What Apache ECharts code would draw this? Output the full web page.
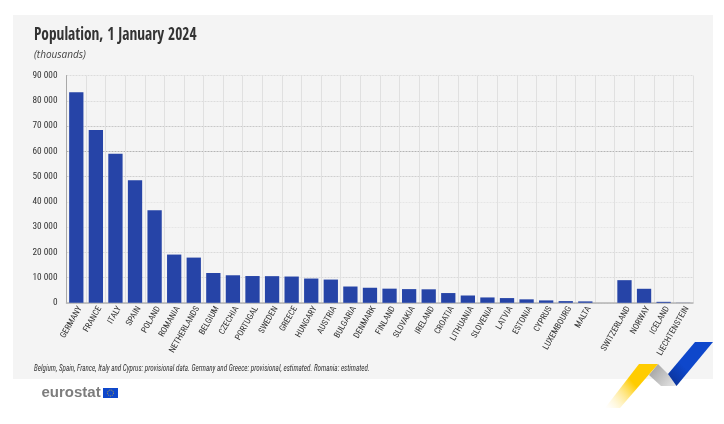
<!DOCTYPE html>
<html>
<head>
<meta charset="utf-8">
<title>Population, 1 January 2024</title>
<script src="https://cdn.jsdelivr.net/npm/echarts@6/dist/echarts.min.js"></script>
<style>
  html, body { margin: 0; padding: 0; background: #fff; }
  #chart { width: 724px; height: 424px; }
</style>
</head>
<body>
<div id="chart"></div>
<script>
// blank entry separates the EU members from the EFTA countries
const countries = ['GERMANY', 'FRANCE', 'ITALY', 'SPAIN', 'POLAND', 'ROMANIA', 'NETHERLANDS', 'BELGIUM', 'CZECHIA', 'PORTUGAL', 'SWEDEN', 'GREECE', 'HUNGARY', 'AUSTRIA', 'BULGARIA', 'DENMARK', 'FINLAND', 'SLOVAKIA', 'IRELAND', 'CROATIA', 'LITHUANIA', 'SLOVENIA', 'LATVIA', 'ESTONIA', 'CYPRUS', 'LUXEMBOURG', 'MALTA', '', 'SWITZERLAND', 'NORWAY', 'ICELAND', 'LIECHTENSTEIN']
const population = [83400, 68400, 59000, 48500, 36600, 19100, 17900, 11800, 10900, 10600, 10550, 10400, 9600, 9200, 6450, 5960, 5600, 5420, 5340, 3860, 2890, 2120, 1870, 1370, 950, 670, 560, null, 8960, 5550, 384, 40]

const titleText = 'Population, 1 January 2024'
const subtitleText = '(thousands)'
const noteText = 'Belgium, Spain, France, Italy and Cyprus: provisional data. Germany and Greece: provisional, estimated. Romania: estimated.'

const narrow = '"Roboto Condensed", sans-serif'
const chart = echarts.init(document.getElementById('chart'))

const ribbon = (x0, y0, x1, y1, stops) => new echarts.graphic.LinearGradient(x0, y0, x1, y1, stops)

chart.setOption({
  animation: false,
  backgroundColor: '#fff',
  textStyle: { fontFamily: narrow },
  title: [
    { text: subtitleText, left: 29, top: 45, textStyle: { fontFamily: '"Open Sans", sans-serif', fontSize: 10, fontStyle: 'italic', fontWeight: 'normal', color: '#444' } }
  ],
  grid: { left: 66.5, top: 75.5, width: 626.5, height: 227.3 },
  xAxis: {
    type: 'category',
    data: countries,
    axisLine: { lineStyle: { color: '#b4b4b4', width: 1.5 } },
    axisTick: { show: false },
    axisLabel: { interval: 0, rotate: 60, margin: 2, fontSize: 8.6, color: '#333', fontFamily: narrow, verticalAlign: 'top' },
    splitLine: { show: true, interval: 0, lineStyle: { color: '#e0e0e0', width: 1 } }
  },
  yAxis: {
    type: 'value',
    min: 0,
    max: 90000,
    interval: 10000,
    axisLine: { show: true, lineStyle: { color: '#a8a8a8', width: 1 } },
    axisTick: { show: false },
    axisLabel: {
      margin: 9,
      fontSize: 9.3,
      color: '#333',
      fontFamily: narrow,
      padding: [2, 0, 0, 0],
      formatter: v => String(v).replace(/\B(?=(\d{3})+$)/g, ' ')
    },
    splitLine: {
      show: true,
      lineStyle: {
        color: ['#d8d8d8', '#dadada', '#dadada', '#e6e6e6', '#e6e6e6', '#cfcfcf', '#b4b4b4', '#c8c8c8', '#dcdcdc', '#dcdcdc'],
        width: 1,
        type: [2, 1]
      }
    }
  },
  series: [{
    type: 'bar',
    data: population,
    barWidth: '73%',
    itemStyle: { color: '#2644A7' },
    z: 3
  }],
  graphic: [
    // panel behind the chart
    { type: 'rect', z: -10, silent: true, shape: { x: 13, y: 15, width: 700, height: 364 }, style: { fill: '#f4f4f4' } },
    // title and note squeezed horizontally, no installed font is narrow enough
    { type: 'text', z: 10, silent: true, x: 34, y: 36, scaleX: 0.905, style: { text: titleText, font: 'bold 17px "Open Sans Condensed", sans-serif', fill: '#333', verticalAlign: 'middle' } },
    { type: 'text', z: 10, silent: true, x: 34, y: 369, scaleX: 0.786, style: { text: noteText, font: 'italic 9px "Roboto Condensed", sans-serif', fill: '#333', verticalAlign: 'middle' } },
    // ribbon decoration, bottom right
    { type: 'polygon', z: 10, silent: true, shape: { points: [[658, 364], [668, 374], [676.5, 386], [661, 386], [649, 375]] },
      style: { fill: ribbon(0, 0, 1, 1, [{ offset: 0, color: '#9a9a9a' }, { offset: 1, color: '#e8e8e8' }]) } },
    { type: 'polygon', z: 11, silent: true, shape: { points: [[639, 364], [658, 364], [620, 408], [605, 408]] },
      style: { fill: ribbon(1, 0, 0, 1, [{ offset: 0, color: '#ffcc00' }, { offset: 0.45, color: '#ffcc00' }, { offset: 1, color: 'rgba(255,240,190,0)' }]) } },
    { type: 'polygon', z: 11, silent: true, shape: { points: [[695, 342], [713, 342], [676.5, 386], [668, 374]] },
      style: { fill: ribbon(1, 0, 0, 1, [{ offset: 0, color: '#0e47cb' }, { offset: 0.6, color: '#0e47cb' }, { offset: 1, color: '#0a2f8f' }]) } },
    // eurostat wordmark and flag
    { type: 'text', z: 10, silent: true, x: 41.5, y: 385, style: { text: 'eurostat', font: 'bold 15px "Liberation Sans", sans-serif', fill: '#7d7d7d' } },
    { type: 'rect', z: 10, silent: true, shape: { x: 103, y: 388, width: 15, height: 10 }, style: { fill: '#0e47cb' } },
    { type: 'circle', z: 11, silent: true, shape: { cx: 110.5, cy: 393, r: 3 }, style: { fill: 'none', stroke: '#ffcc00', lineWidth: 0.7, lineDash: [1, 1] } }
  ]
})
</script>
</body>
</html>
